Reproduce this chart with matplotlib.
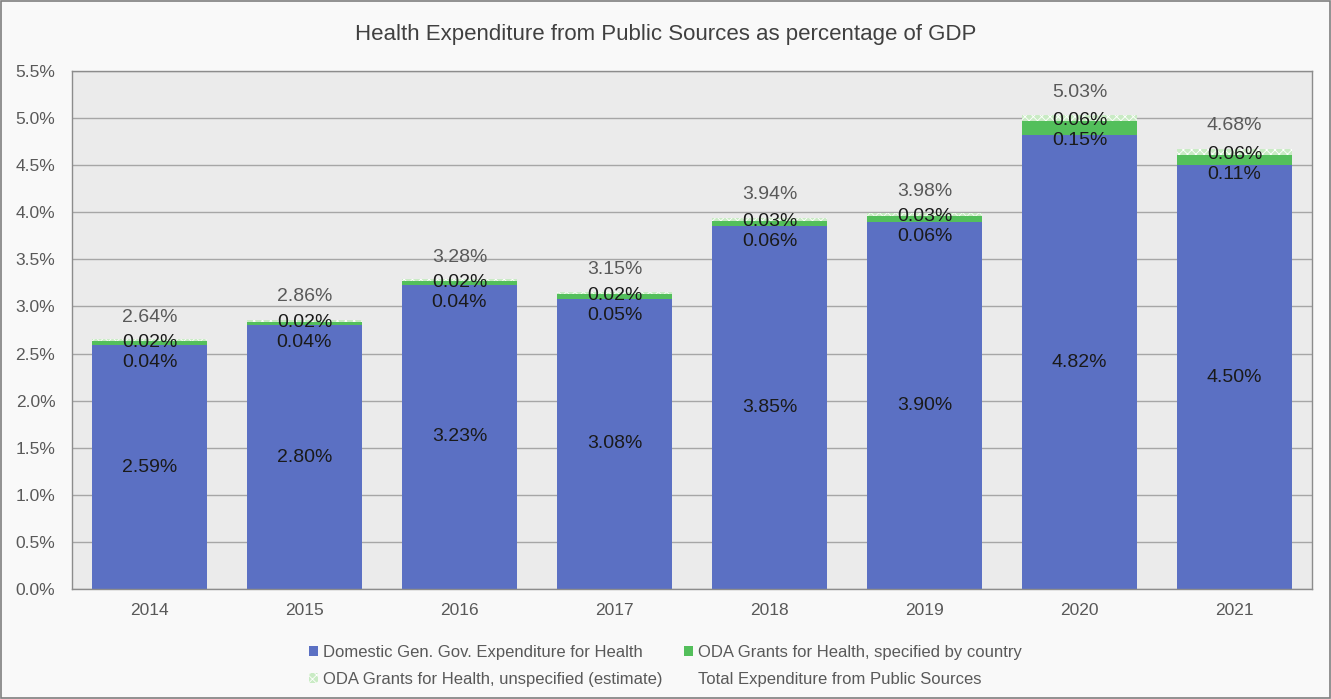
import numpy as np
import matplotlib
matplotlib.use("Agg")
import matplotlib.pyplot as plt
from matplotlib.patches import Rectangle, Patch
from matplotlib.lines import Line2D

plt.rcParams['font.family'] = ['Liberation Sans', 'DejaVu Sans']
plt.rcParams['hatch.linewidth'] = 0.6

years = ["2014", "2015", "2016", "2017", "2018", "2019", "2020", "2021"]
domestic = [2.59, 2.80, 3.23, 3.08, 3.85, 3.90, 4.82, 4.50]
oda_specified = [0.04, 0.04, 0.04, 0.05, 0.06, 0.06, 0.15, 0.11]
oda_unspecified = [0.02, 0.02, 0.02, 0.02, 0.03, 0.03, 0.06, 0.06]
total = [2.64, 2.86, 3.28, 3.15, 3.94, 3.98, 5.03, 4.68]

BLUE = "#5b70c3"
GREEN = "#53bf5b"
LIGHT = "#c9ebc4"
TXT = "#595959"
LBL = 14

fig = plt.figure(figsize=(13.31, 6.99), dpi=100, facecolor="#f9f9f9")
ax = fig.add_axes([0.0541, 0.1574, 0.9316, 0.741])
ax.set_facecolor("#ebebeb")

x = np.arange(len(years))
w = 0.74
dom = np.array(domestic)
spec = np.array(oda_specified)
unspec = np.array(oda_unspecified)

ax.bar(x, dom, w, color=BLUE, zorder=2)
ax.bar(x, spec, w, bottom=dom, color=GREEN, zorder=2)
ax.bar(x, unspec, w, bottom=dom + spec, facecolor=LIGHT,
       edgecolor="#ffffff", hatch="xxxx", linewidth=0, zorder=2)

# segment labels; the small ODA labels are stacked so they do not collide
for i in range(len(years)):
    top_mid = dom[i] + spec[i] + unspec[i] / 2
    ax.text(x[i], dom[i] / 2, f"{domestic[i]:.2f}%", ha="center", va="center",
            fontsize=LBL, color="#1a1a1a", zorder=3)
    ax.annotate(f"{oda_unspecified[i]:.2f}%", (x[i], top_mid),
                xytext=(0, -2), textcoords="offset pixels",
                ha="center", va="center", fontsize=LBL, color="#1a1a1a", zorder=3)
    ax.annotate(f"{oda_specified[i]:.2f}%", (x[i], top_mid),
                xytext=(0, -22), textcoords="offset pixels",
                ha="center", va="center", fontsize=LBL, color="#1a1a1a", zorder=3)
    ax.annotate(f"{total[i]:.2f}%", (x[i], total[i]),
                xytext=(0, 23), textcoords="offset pixels",
                ha="center", va="center", fontsize=LBL, color=TXT, zorder=3)

ax.set_ylim(0, 5.5)
ax.set_xlim(-0.5, len(years) - 0.5)
ax.set_yticks(np.arange(0, 5.51, 0.5))
ax.set_yticklabels([f"{v:.1f}%" for v in np.arange(0, 5.51, 0.5)])
ax.set_xticks(x)
ax.set_xticklabels(years)
ax.tick_params(axis="y", length=0, labelsize=12.5, colors=TXT, pad=12)
ax.tick_params(axis="x", length=0, labelsize=12.5, colors=TXT, pad=10)
ax.yaxis.grid(True, color="#a6a6a6", linewidth=1, zorder=0)
ax.set_axisbelow(True)
for s in ax.spines.values():
    s.set_color("#8c8c8c")
    s.set_linewidth(1)

fig.text(0.5, 0.95, "Health Expenditure from Public Sources as percentage of GDP",
         ha="center", va="center", fontsize=16, color="#404040")

handles = [
    Patch(facecolor=BLUE, label="Domestic Gen. Gov. Expenditure for Health"),
    Patch(facecolor=LIGHT, edgecolor="#ffffff", hatch="xxxx", linewidth=0,
          label="ODA Grants for Health, unspecified (estimate)"),
    Patch(facecolor=GREEN, label="ODA Grants for Health, specified by country"),
    Line2D([], [], linestyle="none", label="Total Expenditure from Public Sources"),
]
fig.legend(handles=handles, ncol=2, loc="center", bbox_to_anchor=(0.5, 0.047),
           frameon=False, fontsize=12, labelcolor=TXT, handlelength=0.55,
           handleheight=0.55, handletextpad=0.3, columnspacing=1.3,
           labelspacing=0.7)

fig.add_artist(Rectangle((0.001, 0.001), 0.998, 0.998, transform=fig.transFigure,
                         fill=False, edgecolor="#7f7f7f", linewidth=1.2))

fig.savefig("out.png", dpi=100, facecolor=fig.get_facecolor())
